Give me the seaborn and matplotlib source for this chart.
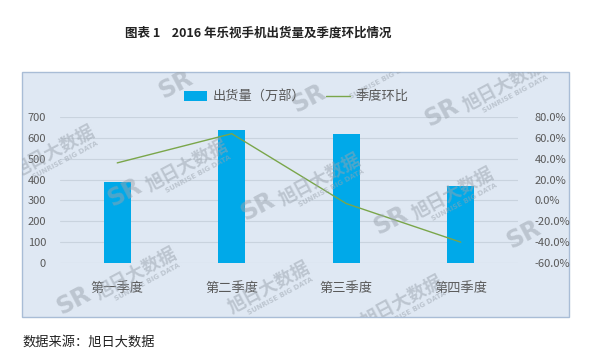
import numpy as np
import pandas as pd
import matplotlib
matplotlib.use("Agg")
import matplotlib.pyplot as plt
from matplotlib.patches import Rectangle, Patch
from matplotlib.lines import Line2D
from matplotlib.ticker import FuncFormatter, MultipleLocator
import seaborn as sns

categories = ["第一季度", "第二季度", "第三季度", "第四季度"]
shipments = [390, 640, 620, 370]
qoq = [0.36, 0.64, -0.03, -0.40]
title = "图表 1    2016 年乐视手机出货量及季度环比情况"
source = "数据来源：旭日大数据"
bar_label = "出货量（万部）"
line_label = "季度环比"
wm_text = "旭日大数据"
wm_sub = "SUNRISE BIG DATA"

sns.set_theme(style="white")
plt.rcParams['font.family'] = ['Noto Sans CJK SC', 'DejaVu Sans']
plt.rcParams['axes.unicode_minus'] = False

W, H = 594, 360
bg = "#dfe8f3"
bar_color = "#00a9e9"
line_color = "#7aa64a"
text_color = "#595959"
grid_color = "#c9d3de"

fig = plt.figure(figsize=(W/100, H/100), dpi=100)
bx0, by0, bx1, by1 = 22, 72, 569, 317
box = Rectangle((bx0/W, 1-by1/H), (bx1-bx0)/W, (by1-by0)/H,
                transform=fig.transFigure, facecolor=bg,
                edgecolor="#a9bdd6", linewidth=1.0, zorder=-10)
fig.add_artist(box)

ax = fig.add_axes([60/W, 1-263/H, (518-60)/W, 146/H])
ax.set_facecolor("none")
ax.set_zorder(1)
df = pd.DataFrame({"cat": categories, "val": shipments, "pos": np.arange(len(categories)), "qoq": qoq})
sns.barplot(data=df, x="cat", y="val", color=bar_color, width=0.235,
            saturation=1, edgecolor="none", linewidth=0, ax=ax, zorder=3)
ax.set_xlim(-0.5, len(categories) - 0.5)
ax.set_ylim(0, 700)
ax.yaxis.set_major_locator(MultipleLocator(100))
ax.set_xlabel("")
ax.set_ylabel("")
ax.grid(axis="y", color=grid_color, linewidth=0.8, zorder=0)
ax.set_axisbelow(True)
for s in ax.spines.values():
    s.set_visible(False)
ax.tick_params(axis="y", length=0, labelsize=8, labelcolor=text_color, pad=10)
ax.tick_params(axis="x", length=0, labelsize=9.5, labelcolor=text_color, pad=14)

ax2 = ax.twinx()
ax2.set_zorder(2)
ax2.set_facecolor("none")
sns.lineplot(data=df, x="pos", y="qoq", color=line_color, linewidth=1.0,
             ax=ax2, zorder=4)
ax2.set_xlim(-0.5, len(categories) - 0.5)
ax2.set_ylim(-0.6, 0.8)
ax2.yaxis.set_major_locator(MultipleLocator(0.2))
ax2.yaxis.set_major_formatter(FuncFormatter(lambda v, p: f"{v*100:.1f}%"))
ax2.tick_params(axis="y", length=0, labelsize=8, labelcolor=text_color, pad=12)
for s in ax2.spines.values():
    s.set_visible(False)
ax2.set_ylabel("")
ax2.set_xlabel("")
ax2.grid(False)

handles = [Patch(facecolor=bar_color, edgecolor="none", label=bar_label),
           Line2D([0], [0], color=line_color, linewidth=1.0, label=line_label)]
fig.legend(handles=handles, loc="center", bbox_to_anchor=(296/W, 1-97/H),
           ncol=2, frameon=False, fontsize=9.5, labelcolor=text_color,
           handlelength=1.8, handleheight=0.8, columnspacing=1.6, handletextpad=0.4)

# watermark tiles (decoration, clipped to the chart box)
ang = 28
rad = np.deg2rad(ang)
u = np.array([np.cos(rad), -np.sin(rad)])   # along text direction (pixels, y down)
p = np.array([np.sin(rad), np.cos(rad)])    # perpendicular, downwards
origin = np.array([125.0, 193.0])
va_ = np.array([133.0, 14.0])
vb_ = np.array([51.0, -108.0])
wm_color = "#9aa3ad"
for i in range(-3, 6):
    for j in range(-3, 4):
        L = origin + i * va_ + j * vb_
        T = L + 68 * u + 4 * p
        S = T + 14 * p + 6 * u
        items = [
            (L, "SR", 17, "heavy", ["DejaVu Sans"]),
            (T, wm_text, 13, "bold", ['Noto Sans CJK SC', 'DejaVu Sans']),
            (S, wm_sub, 5, "bold", ["DejaVu Sans"]),
        ]
        for pos, s, fs, fw, fam in items:
            if not (bx0 + 8 < pos[0] < bx1 - 8 and by0 + 6 < pos[1] < by1 - 6):
                continue
            t = fig.text(pos[0]/W, 1-pos[1]/H, s, ha="center", va="center",
                         rotation=ang, rotation_mode="anchor", fontsize=fs,
                         fontweight=fw, color=wm_color, alpha=0.5,
                         family=fam, zorder=5)
            t.set_clip_path(box)

fig.text(258/W, 1-33/H, title, ha="center", va="center", fontsize=9,
         fontweight="bold", color="#222222")
fig.text(22/W, 1-342/H, source, ha="left", va="center", fontsize=9.5,
         color="#222222", style="italic")

fig.savefig("out.png", dpi=100)
